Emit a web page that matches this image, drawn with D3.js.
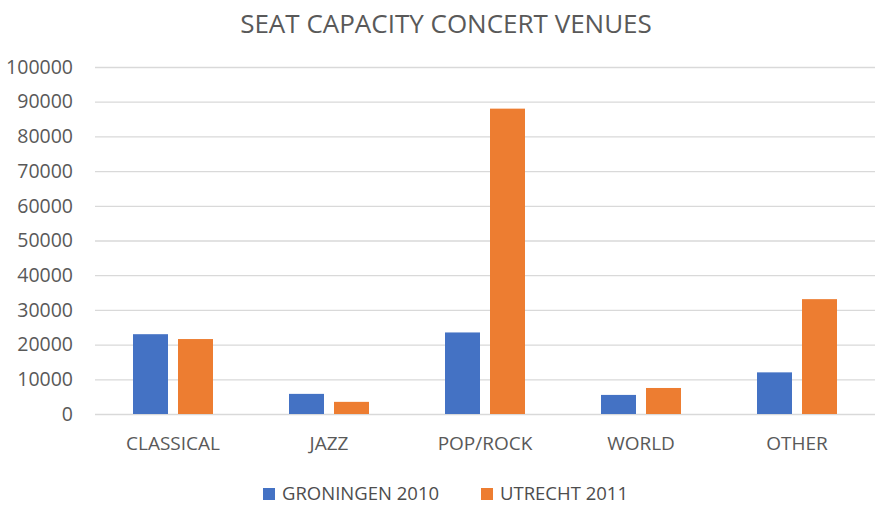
<!DOCTYPE html>
<html><head><meta charset="utf-8">
<script src="https://cdn.jsdelivr.net/npm/d3@7"></script>
<style>body{margin:0;background:#fff}</style>
</head><body>
<svg id="c" width="876" height="505"></svg>
<script>
const categories = ["CLASSICAL", "JAZZ", "POP/ROCK", "WORLD", "OTHER"];
const seriesNames = ["GRONINGEN 2010", "UTRECHT 2011"];
const groningen2010 = [23000, 5800, 23500, 5500, 12000];
const utrecht2011 = [21600, 3500, 88000, 7500, 33100];
const yTicks = [0, 10000, 20000, 30000, 40000, 50000, 60000, 70000, 80000, 90000, 100000];
const colors = ["#4472c4", "#ed7d31"];
const title = "SEAT CAPACITY CONCERT VENUES";

(function () {
const seriesValues = [groningen2010, utrecht2011];
const rows = categories.map((c, i) => ({cat: c, vals: seriesNames.map((s, j) => ({s, v: seriesValues[j][i]}))}));

const svg = d3.select("#c");
const font = "'Open Sans', sans-serif";
const textColor = "#595959";
const mLeft = 95, mRight = 875, mTop = 67, mBottom = 414;

const y = d3.scaleLinear().domain([0, 100000]).range([mBottom, mTop]);
const x0 = d3.scaleBand().domain(categories).range([mLeft, mRight]).padding(0);
const x1 = d3.scaleBand().domain(seriesNames).range([0, x0.bandwidth()]).paddingInner(10/45).paddingOuter(38/45);

const yAxis = d3.axisLeft(y).tickValues(yTicks).tickSize(-(mRight - mLeft)).tickPadding(22).tickFormat(d3.format("d"));
const ga = svg.append("g").attr("transform", `translate(${mLeft},0)`).call(yAxis);
ga.select(".domain").remove();
ga.selectAll(".tick line").attr("stroke", "#d9d9d9").attr("stroke-width", 1.3);
ga.selectAll(".tick text").attr("fill", textColor).style("font-family", font).style("font-size", "19.5px");

const g = svg.append("g");
g.selectAll("g.cat").data(rows).join("g").attr("class", "cat")
  .attr("transform", d => `translate(${x0(d.cat)},0)`)
  .selectAll("rect").data(d => d.vals).join("rect")
  .attr("x", d => x1(d.s)).attr("width", x1.bandwidth())
  .attr("y", d => y(d.v)).attr("height", d => y(0) - y(d.v))
  .attr("fill", (d, i) => colors[i]);

const xAxis = d3.axisBottom(x0).tickSize(0).tickPadding(23);
const gx = svg.append("g").attr("transform", `translate(0,${mBottom})`).call(xAxis);
gx.select(".domain").remove();
gx.selectAll(".tick text").attr("fill", textColor).style("font-family", font).style("font-size", "19px");

svg.append("text").attr("x", 446).attr("y", 33).attr("text-anchor", "middle")
  .attr("fill", textColor).style("font-family", font).style("font-size", "26px").text(title);

const legendX = [263, 481];
const lg = svg.append("g");
seriesNames.forEach((s, i) => {
  lg.append("rect").attr("x", legendX[i]).attr("y", 488).attr("width", 12).attr("height", 12).attr("fill", colors[i]);
  lg.append("text").attr("x", legendX[i] + 19).attr("y", 500).attr("fill", "#4d4d4d")
    .style("font-family", font).style("font-size", "18.5px").text(s);
});
})();
</script>
</body></html>
